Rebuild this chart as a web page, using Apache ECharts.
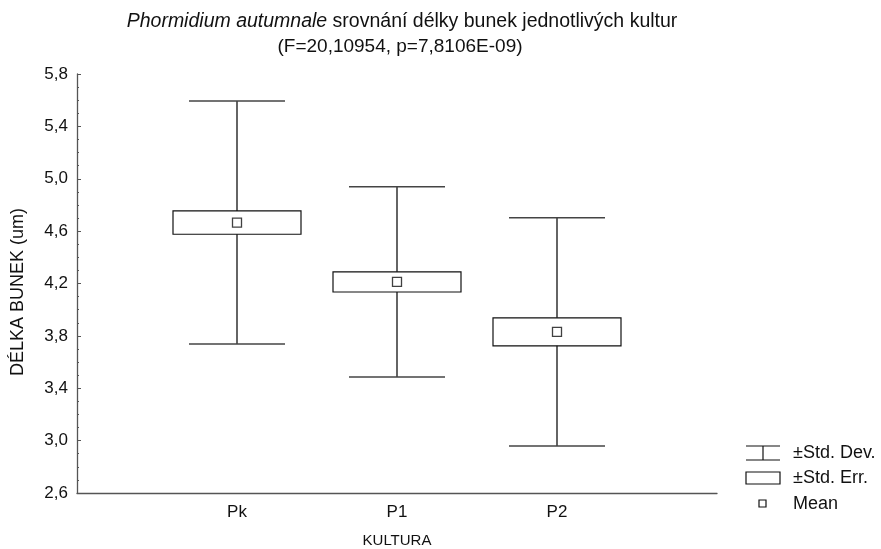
<!DOCTYPE html>
<html>
<head>
<meta charset="utf-8">
<script src="https://cdn.jsdelivr.net/npm/echarts@6/dist/echarts.min.js"></script>
<style>
  html, body { margin: 0; padding: 0; background: #fff; }
  #chart { width: 881px; height: 549px; }
</style>
</head>
<body>
<div id="chart"></div>
<script>
// Cell length per culture: mean, standard deviation, standard error
var categories = ['Pk', 'P1', 'P2'];
var means = [4.665, 4.212, 3.831];
var stdDev = [0.928, 0.726, 0.872];
var stdErr = [0.089, 0.077, 0.107];
var yTicks = { min: 2.6, max: 5.8, step: 0.4 };

var FONT = '"Liberation Sans", Arial, sans-serif';
var INK = '#111';

var rows = categories.map(function (c, i) {
  return [i + 1, means[i], stdDev[i], stdErr[i]];
});

var chart = echarts.init(document.getElementById('chart'), null, { renderer: 'canvas' });

function renderWhisker(params, api) {
  var x = api.value(0), m = api.value(1), sd = api.value(2);
  var capHalf = 0.3;
  var top = api.coord([x, m + sd]);
  var bot = api.coord([x, m - sd]);
  var capL = api.coord([x - capHalf, m])[0];
  var capR = api.coord([x + capHalf, m])[0];
  var st = { stroke: INK, lineWidth: 1.3 };
  return {
    type: 'group',
    children: [
      { type: 'line', shape: { x1: top[0], y1: top[1], x2: bot[0], y2: bot[1] }, style: st },
      { type: 'line', shape: { x1: capL, y1: top[1], x2: capR, y2: top[1] }, style: { stroke: '#444', lineWidth: 1.5 } },
      { type: 'line', shape: { x1: capL, y1: bot[1], x2: capR, y2: bot[1] }, style: { stroke: '#444', lineWidth: 1.5 } }
    ]
  };
}

function renderBox(params, api) {
  var x = api.value(0), m = api.value(1), se = api.value(3);
  var half = 0.4;
  var tl = api.coord([x - half, m + se]);
  var br = api.coord([x + half, m - se]);
  return {
    type: 'rect',
    shape: { x: tl[0], y: tl[1], width: br[0] - tl[0], height: br[1] - tl[1] },
    style: { fill: '#fff', stroke: INK, lineWidth: 1.2 }
  };
}

chart.setOption({
  animation: false,
  backgroundColor: '#fff',
  grid: { left: 77, right: 164, top: 74, bottom: 56, containLabel: false, outerBoundsMode: 'none' },
  xAxis: {
    type: 'value',
    min: 0, max: 4, interval: 1,
    name: 'KULTURA',
    nameLocation: 'middle',
    nameGap: 40,
    nameTextStyle: { fontFamily: FONT, fontSize: 15, color: INK },
    axisLine: { show: true, lineStyle: { color: '#555', width: 1.3 } },
    axisTick: { show: false },
    splitLine: { show: false },
    axisLabel: {
      fontFamily: FONT, fontSize: 17, color: INK, margin: 11,
      formatter: function (v) { return categories[v - 1] || ''; }
    }
  },
  yAxis: {
    type: 'value',
    min: yTicks.min, max: yTicks.max, interval: yTicks.step,
    axisLine: { show: true, lineStyle: { color: '#555', width: 1.3 } },
    axisTick: { show: true, inside: true, length: 4, lineStyle: { color: '#555' } },
    minorTick: { show: true, splitNumber: 4, length: 2, lineStyle: { color: '#555' } },
    splitLine: { show: false },
    axisLabel: {
      fontFamily: FONT, fontSize: 17, color: INK, margin: 9,
      formatter: function (v) { return v.toFixed(1).replace('.', ','); }
    }
  },
  series: [
    {
      name: '±Std. Dev.', type: 'custom', data: rows,
      encode: { x: 0, y: 1 }, renderItem: renderWhisker, z: 1
    },
    {
      name: '±Std. Err.', type: 'custom', data: rows,
      encode: { x: 0, y: 1 }, renderItem: renderBox, z: 2
    },
    {
      name: 'Mean', type: 'scatter', z: 3,
      data: rows.map(function (r) { return [r[0], r[1]]; }),
      symbol: 'rect', symbolSize: 9,
      itemStyle: { color: '#fff', borderColor: INK, borderWidth: 1.3 }
    }
  ],
  graphic: [
    {
      type: 'text', x: 402, y: 22,
      style: {
        text: '{i|Phormidium autumnale} srovnání délky bunek jednotlivých kultur',
        align: 'center', verticalAlign: 'middle',
        fontFamily: FONT, fontSize: 19.5, fill: INK,
        rich: { i: { fontStyle: 'italic', fontFamily: FONT, fontSize: 19.5, fill: INK } }
      }
    },
    {
      type: 'text', x: 400, y: 47,
      style: {
        text: '(F=20,10954, p=7,8106E-09)',
        align: 'center', verticalAlign: 'middle',
        fontFamily: FONT, fontSize: 19, fill: INK
      }
    },
    {
      type: 'text', x: 18, y: 292, rotation: Math.PI / 2,
      style: {
        text: 'DÉLKA BUNEK (um)',
        align: 'center', verticalAlign: 'middle',
        fontFamily: FONT, fontSize: 18, fill: INK
      }
    },
    // legend
    { type: 'line', shape: { x1: 746, y1: 446, x2: 780, y2: 446 }, style: { stroke: INK, lineWidth: 1.2 } },
    { type: 'line', shape: { x1: 763, y1: 446, x2: 763, y2: 460 }, style: { stroke: INK, lineWidth: 1.2 } },
    { type: 'line', shape: { x1: 746, y1: 460, x2: 780, y2: 460 }, style: { stroke: INK, lineWidth: 1.2 } },
    { type: 'text', x: 793, y: 453, style: { text: '±Std. Dev.', fontFamily: FONT, fontSize: 18, fill: INK, verticalAlign: 'middle' } },
    { type: 'rect', shape: { x: 746, y: 472, width: 34, height: 12 }, style: { fill: '#fff', stroke: INK, lineWidth: 1.2 } },
    { type: 'text', x: 793, y: 478, style: { text: '±Std. Err.', fontFamily: FONT, fontSize: 18, fill: INK, verticalAlign: 'middle' } },
    { type: 'rect', shape: { x: 759, y: 500, width: 7, height: 7 }, style: { fill: '#fff', stroke: INK, lineWidth: 1.2 } },
    { type: 'text', x: 793, y: 504, style: { text: 'Mean', fontFamily: FONT, fontSize: 18, fill: INK, verticalAlign: 'middle' } }
  ]
});
</script>
</body>
</html>
